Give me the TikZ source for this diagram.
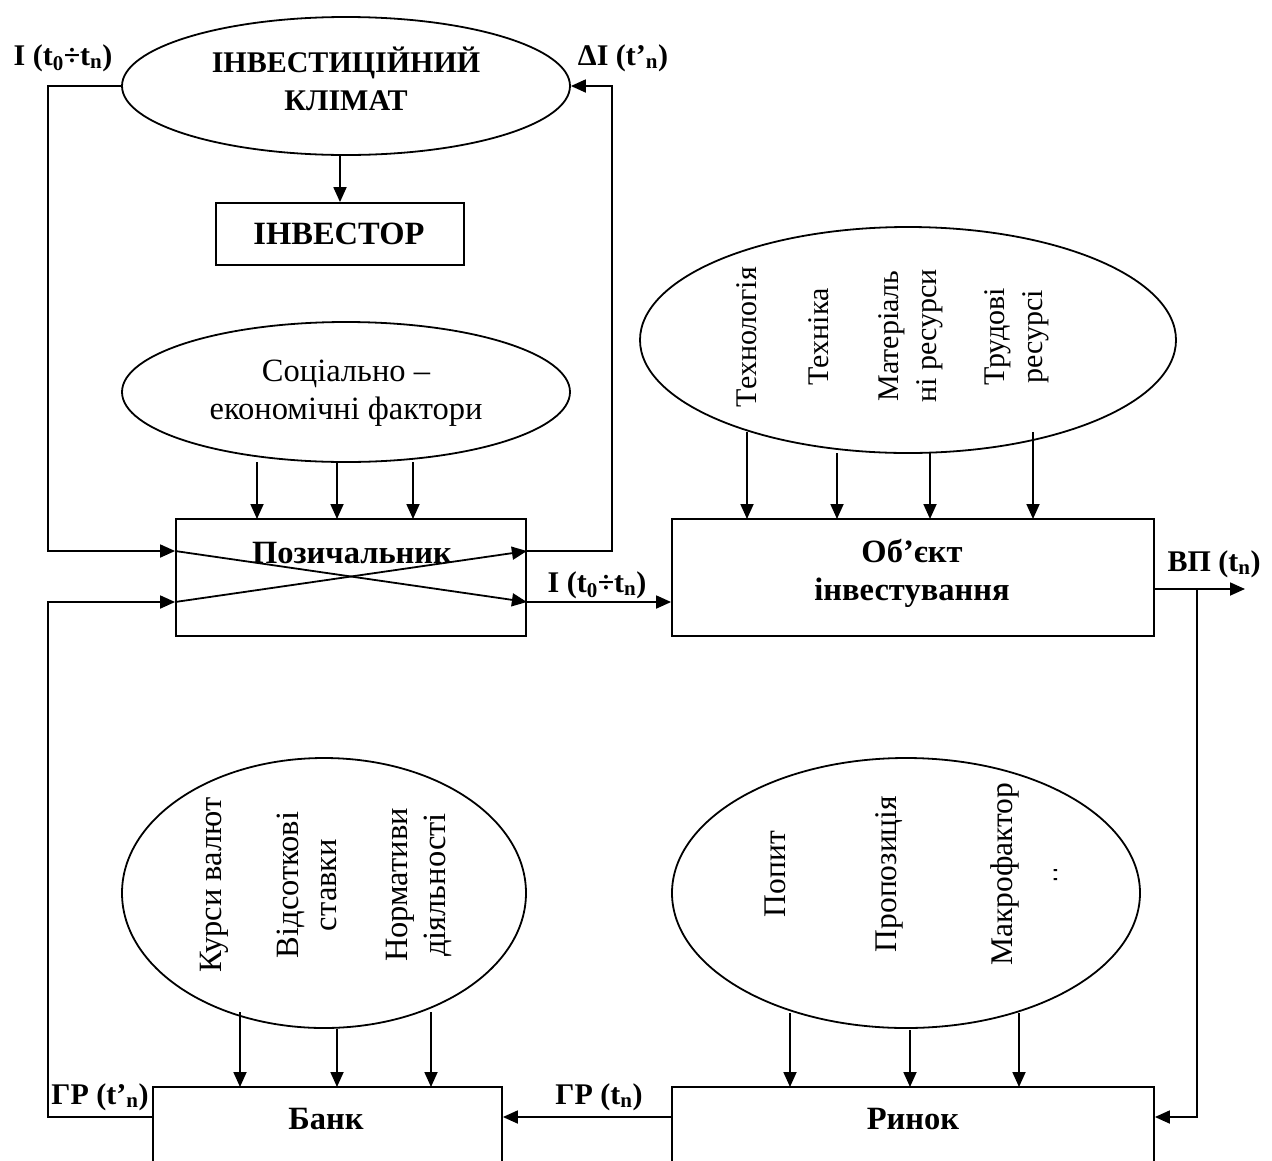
\documentclass[tikz,border=0pt]{standalone}
\usepackage{fontspec}
\setmainfont{Liberation Serif}
\usetikzlibrary{arrows.meta,shapes.geometric}
\newcommand{\fsz}{\fontsize{30}{38}\selectfont}
\newcommand{\fszm}{\fontsize{31.5}{38}\selectfont}
\newcommand{\fszl}{\fontsize{32.5}{38}\selectfont}
\begin{document}
\begin{tikzpicture}[x=1pt,y=-1pt,
  every node/.style={font=\fsz},
  box/.style={draw, line width=1.8pt, rectangle, inner sep=0pt},
  oval/.style={draw, ellipse, line width=1.8pt, inner sep=0pt},
  arr/.style={line width=1.8pt, -{Triangle[length=15pt,width=13pt]}},
  lbl/.style={font=\fsz\bfseries, inner sep=0pt},
  btxt/.style={font=\fsz\bfseries, inner sep=0pt, align=center},
  boxtxt/.style={font=\fszl\bfseries, inner sep=0pt, align=center},
  vtxt/.style={rotate=90, align=center, inner sep=0pt},
]
\useasboundingbox (0,0) rectangle (1272,1160);
\clip (0,0) rectangle (1272,1160);

% ---- ellipses ----
\node[oval, minimum width=448pt, minimum height=138pt] (clim) at (346,86) {};
\node[oval, minimum width=448pt, minimum height=140pt] (soc) at (346,392) {};
\node[oval, minimum width=536pt, minimum height=226pt] (res) at (908,340) {};
\node[oval, minimum width=404pt, minimum height=270pt] (fin) at (324,893) {};
\node[oval, minimum width=468pt, minimum height=270pt] (mkt) at (906,893) {};

% ---- boxes ----
\node[box, minimum width=248pt, minimum height=62pt] (inv) at (340,234) {};
\node[box, minimum width=350pt, minimum height=117pt] (loan) at (351,577.5) {};
\node[box, minimum width=482pt, minimum height=117pt] (obj) at (913,577.5) {};
\node[box, minimum width=349pt, minimum height=100pt] (bank) at (327.5,1137) {};
\node[box, minimum width=482pt, minimum height=100pt] (market) at (913,1137) {};

% ---- texts in shapes ----
\node[btxt] (climT) at (346,79) {ІНВЕСТИЦІЙНИЙ\\КЛІМАТ};
\node[boxtxt] (invT) at (339,234) {ІНВЕСТОР};
\node[align=center, inner sep=0pt, font=\fszl] (socT) at (346,393) {Соціально –\\економічні фактори};
\node[boxtxt] (loanT) at (352,553) {Позичальник};
\node[boxtxt] (objT) at (912,573) {Об’єкт\\інвестування};
\node[boxtxt] (bankT) at (326,1119) {Банк};
\node[boxtxt] (marketT) at (913,1119) {Ринок};

\node[vtxt] (r1) at (747,337) {Технологія};
\node[vtxt] (r2) at (819,337) {Техніка};
\node[vtxt] (r3) at (911,336) {Матеріаль\\ні ресурси};
\node[vtxt] (r4) at (1017,337) {Трудові\\ресурсі};

\node[vtxt, font=\fszl] (f1) at (214,885) {Курси валют};
\node[vtxt, font=\fszl] (f2) at (307,885) {Відсоткові\\ставки};
\node[vtxt, font=\fszl] (f3) at (419,885) {Нормативи\\діяльності};

\node[vtxt, font=\fszm] (m1) at (775,874) {Попит};
\node[vtxt, font=\fszm] (m2) at (889,874) {Пропозиція};
\node[vtxt, font=\fszm] (m3) at (1005,874) {Макрофактор};
\fill (1053.5,869) rectangle (1057,871) (1053.5,878) rectangle (1057,880);

% ---- flow labels ----
\node[lbl] (l1) at (63,58) {I (t\textsubscript{0}÷t\textsubscript{n})};
\node[lbl] (l2) at (623,58) {ΔI (t’\textsubscript{n})};
\node[lbl] (l3) at (597,585) {I (t\textsubscript{0}÷t\textsubscript{n})};
\node[lbl] (l4) at (1214,564) {ВП (t\textsubscript{n})};
\node[lbl] (l5) at (100,1097) {ГР (t’\textsubscript{n})};
\node[lbl] (l6) at (599,1097) {ГР (t\textsubscript{n})};

% ---- connector end points ----
\coordinate (inU) at (loan.west |- 0,551);
\coordinate (inL) at (loan.west |- 0,602);
\coordinate (outU) at (loan.east |- 0,551);
\coordinate (outL) at (loan.east |- 0,602);
\coordinate (objIn) at (obj.west |- 0,602);
\coordinate (objOut) at (obj.east |- 0,589);
\coordinate (vpEnd) at (1245,589);
\coordinate (bankL) at (bank.west |- 0,1117);
\coordinate (bankR) at (bank.east |- 0,1117);
\coordinate (mktL) at (market.west |- 0,1117);
\coordinate (mktR) at (market.east |- 0,1117);

% ---- connectors ----
\draw[arr] (clim.south -| inv.north) -- (inv.north);
\draw[arr] (clim.west) -| (48,551) -- (inU);
\draw[arr] (outU) -| (612,86) -- (clim.east);
\draw[arr] (inU) -- (outL);
\draw[arr] (inL) -- (outU);
\draw[arr] (outL) -- (objIn);
\draw[arr] (objOut) -- (vpEnd);
\draw[arr] (1197,589) |- (mktR);
\draw[arr] (mktL) -- (bankR);
\draw[arr] (bankL) -| (48,602) -- (inL);

\foreach \x in {257,337,413} \draw[arr] (\x,462) -- (\x,519);
\draw[arr] (747,432) -- (747,519);
\draw[arr] (837,453) -- (837,519);
\draw[arr] (930,453) -- (930,519);
\draw[arr] (1033,432) -- (1033,519);
\draw[arr] (240,1012) -- (240,1087);
\draw[arr] (337,1029) -- (337,1087);
\draw[arr] (431,1012) -- (431,1087);
\draw[arr] (790,1013) -- (790,1087);
\draw[arr] (910,1030) -- (910,1087);
\draw[arr] (1019,1013) -- (1019,1087);
\end{tikzpicture}
\end{document}
